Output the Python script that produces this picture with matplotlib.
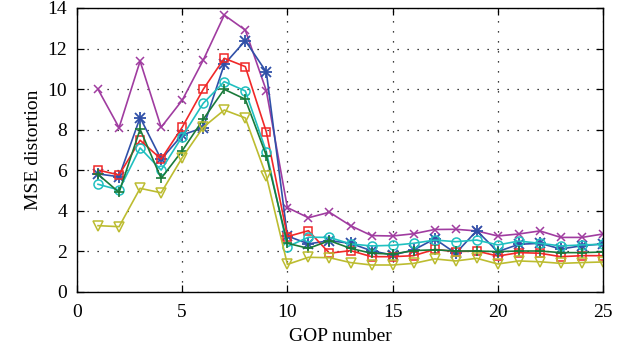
import matplotlib
matplotlib.use("Agg")
import matplotlib.pyplot as plt
import numpy as np

gop = list(range(1, 26))

purple_x = [9.99, 8.10, 11.38, 8.12, 9.45, 11.43, 13.65, 12.91, 9.92, 4.16,
            3.66, 3.93, 3.27, 2.78, 2.76, 2.87, 3.08, 3.09, 3.01, 2.76,
            2.86, 3.01, 2.69, 2.69, 2.86]
blue_star = [5.82, 5.68, 8.60, 6.54, 7.74, 8.10, 11.22, 12.39, 10.84, 2.76,
             2.37, 2.53, 2.40, 2.03, 1.82, 2.07, 2.62, 1.91, 3.02, 1.99,
             2.35, 2.40, 2.12, 2.28, 2.37]
red_square = [6.01, 5.77, 7.48, 6.55, 8.12, 9.99, 11.52, 11.11, 7.89, 2.73,
              3.02, 1.91, 2.04, 1.74, 1.74, 1.79, 2.10, 1.99, 2.02, 1.77,
              1.94, 1.91, 1.74, 1.79, 1.79]
cyan_circle = [5.31, 5.03, 7.10, 6.01, 7.66, 9.30, 10.37, 9.91, 6.92, 2.23,
               2.70, 2.69, 2.37, 2.27, 2.30, 2.40, 2.56, 2.48, 2.56, 2.32,
               2.51, 2.40, 2.27, 2.32, 2.35]
green_plus = [5.80, 4.91, 8.02, 5.60, 6.96, 8.51, 9.99, 9.50, 6.72, 2.40,
              2.15, 2.53, 2.15, 1.91, 1.87, 2.04, 2.08, 2.02, 2.02, 1.99,
              2.02, 2.02, 1.94, 1.94, 1.97]
olive_tri = [3.27, 3.22, 5.11, 4.89, 6.62, 8.12, 8.97, 8.58, 5.72, 1.36,
             1.71, 1.69, 1.45, 1.33, 1.33, 1.41, 1.63, 1.53, 1.66, 1.38,
             1.53, 1.49, 1.41, 1.45, 1.48]

x_ticks = [0, 5, 10, 15, 20, 25]
y_ticks = [0, 2, 4, 6, 8, 10, 12, 14]

plt.rcParams["font.family"] = ["Liberation Serif", "DejaVu Serif"]

fig = plt.figure(figsize=(6.31, 3.58), dpi=100)
ax = fig.add_axes([0.122, 0.1844, 0.8336, 0.7933])

lw = 1.2
ax.plot(gop, purple_x, color="#a03ca0", lw=lw, marker="x", ms=5.5, mew=1.1)
ax.plot(gop, blue_star, color="#3050a8", lw=lw, marker="+", ms=8.5, mew=1.3)
ax.plot(gop, blue_star, color="#3050a8", lw=0, marker="x", ms=6.5, mew=1.3)
ax.plot(gop, red_square, color="#f02828", lw=lw, marker="s", ms=6,
        mfc="none", mew=1.1)
ax.plot(gop, cyan_circle, color="#20c0c0", lw=lw, marker="o", ms=6.5,
        mfc="none", mew=1.1)
ax.plot(gop, green_plus, color="#1a7a3a", lw=lw, marker="+", ms=7.5, mew=1.2)
ax.plot(gop, olive_tri, color="#bcbc30", lw=lw, marker="v", ms=6.5,
        mfc="none", mew=1.1)

ax.set_xlim(0, 25)
ax.set_ylim(0, 14)
ax.set_xticks(x_ticks)
ax.set_yticks(y_ticks)
ax.grid(True, color="black", linestyle=(0, (1, 7)), linewidth=0.9)
ax.tick_params(axis="x", pad=9)
ax.tick_params(axis="y", pad=7)
ax.tick_params(direction="in", top=True, right=True, length=5,
               labelsize=14, width=0.9)
for s in ax.spines.values():
    s.set_linewidth(1.0)

ax.set_xlabel("GOP number", fontsize=14, labelpad=5)
ax.set_ylabel("MSE distortion", fontsize=14, labelpad=4)

fig.savefig("out.png", dpi=100)
